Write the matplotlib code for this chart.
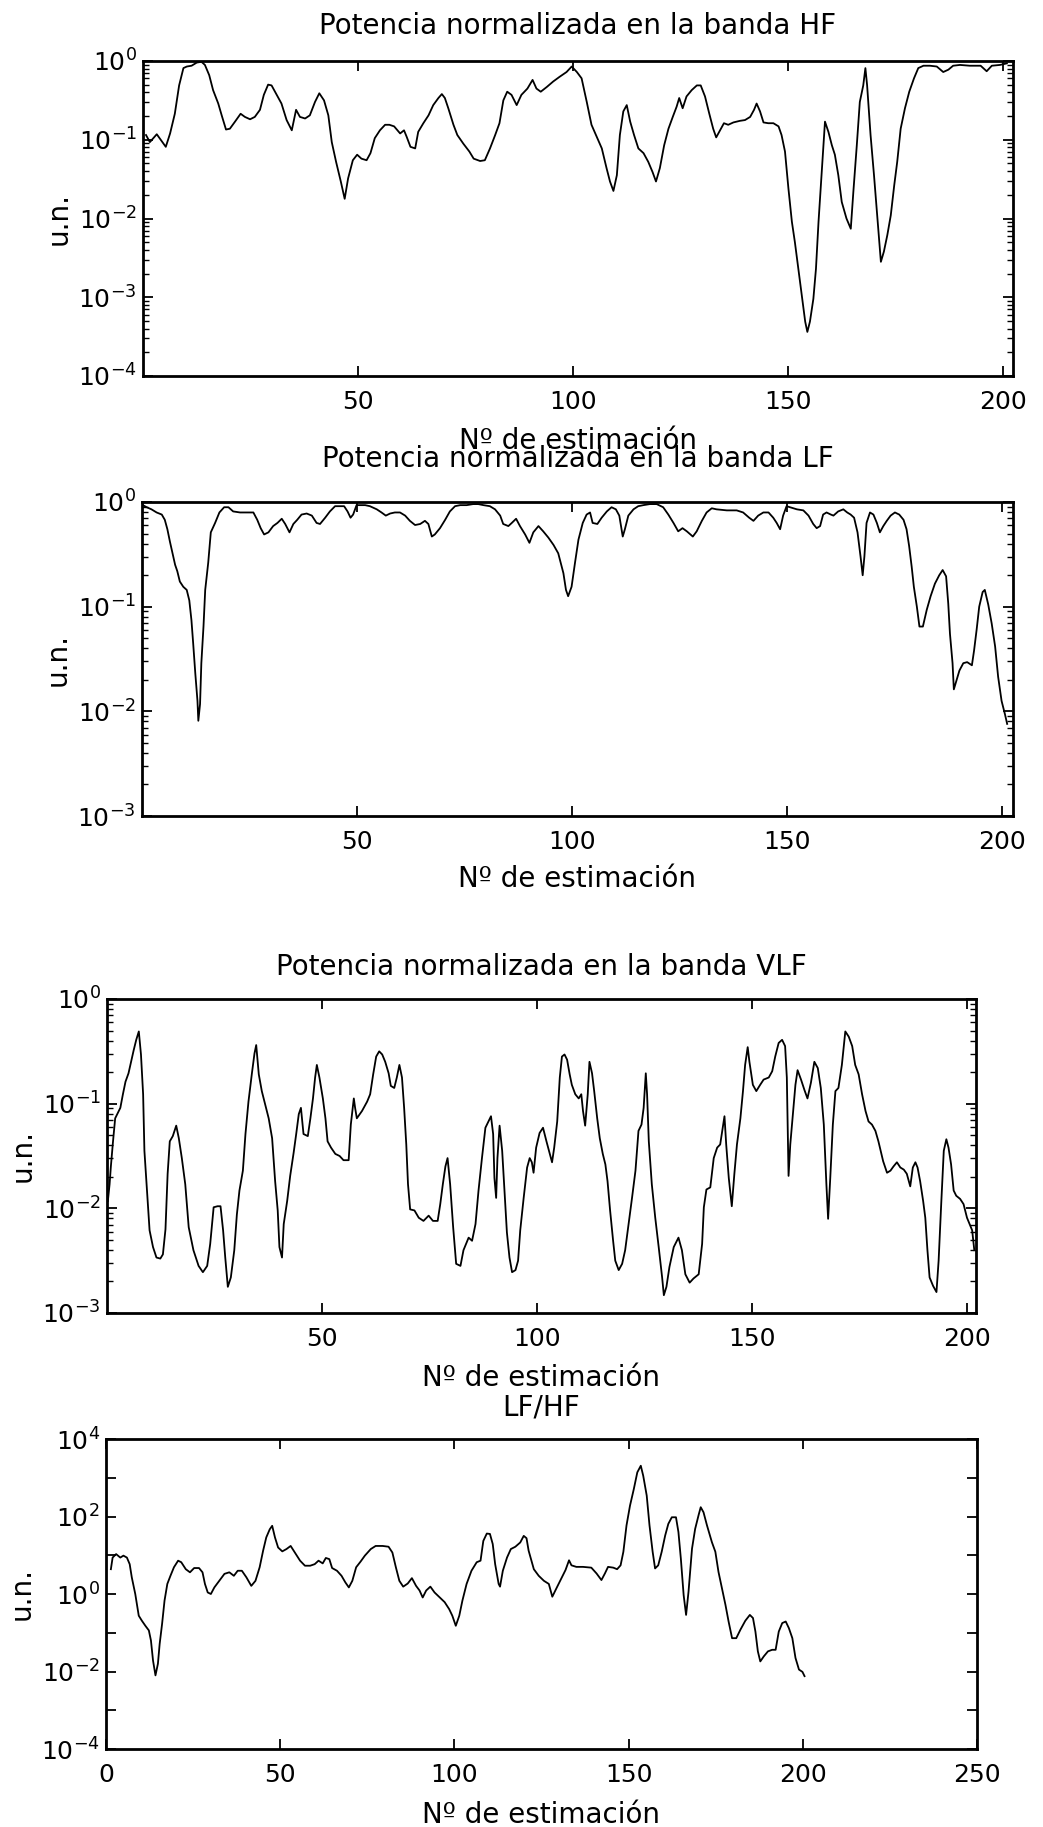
import numpy as np
import matplotlib
matplotlib.use("Agg")
import matplotlib.pyplot as plt
from matplotlib.ticker import LogLocator, NullFormatter, NullLocator

plt.rcParams['font.family'] = ['DejaVu Sans']

# ---- data (x = Nº de estimación, y as log10 exponent) ----
hf_x = [0.7, 1.6, 3.2, 5.3, 6.3, 7.4, 8.4, 9.4, 10.2, 11.3, 12.5, 13.6, 14.4, 15.4, 16.3, 17.5, 18.3, 19.3, 20.2, 21.4,
        22.7, 23.7, 24.9, 26.0, 27.2, 28.1, 29.1, 29.9, 31.1, 32.2, 33.4, 34.6, 35.6, 36.5, 37.7, 38.8, 40.0, 41.0, 42.1, 43.1,
        43.9, 44.9, 46.0, 46.9, 47.7, 48.8, 49.8, 50.8, 52.0, 52.9, 53.9, 55.1, 56.3, 57.3, 58.4, 59.8, 60.7, 61.3, 62.2, 63.3,
        64.0, 65.2, 66.4, 67.5, 68.7, 69.5, 70.2, 71.0, 72.2, 73.1, 74.5, 75.9, 76.9, 78.4, 79.5, 80.7, 81.9, 82.9, 83.8, 84.7,
        85.7, 86.9, 88.0, 89.4, 90.6, 91.5, 92.5, 93.9, 95.4, 96.9, 98.5, 99.7] + \
       [100.9, 102.0, 103.2, 104.3, 105.5, 106.7, 107.8, 108.6, 109.4, 110.2, 110.9, 111.7, 112.5, 113.3, 114.2, 115.2,
        116.4, 117.5, 118.5, 119.3, 120.2, 121.2, 122.2, 123.2, 124.1, 124.7, 125.5, 126.4, 127.6, 128.8, 129.7, 130.7,
        131.7, 132.6, 133.3, 134.2, 135.1, 136.1, 137.3, 138.8, 140.0, 141.2, 142.1, 142.7, 143.5, 144.3, 145.4, 146.6,
        147.8, 148.5, 149.3, 150.1, 150.9, 151.6, 152.4, 153.2, 154.0, 154.5, 155.1, 155.9, 156.5, 157.1, 157.8, 158.6,
        159.4, 160.2, 160.9, 161.7, 162.5, 163.6, 164.6, 165.2, 166.0, 166.7, 167.5, 168.0, 168.4, 169.2, 170.0, 170.8,
        171.6, 172.3, 173.1, 173.9, 174.7, 175.4, 176.2, 177.2, 178.2, 179.3, 180.3, 181.5, 183.0, 184.6, 186.1, 187.3,
        188.4, 190.0, 192.3, 194.8, 196.2, 197.4, 199.3, 200.9]
hf_exp = [-0.94, -1.03, -0.93, -1.09, -0.92, -0.67, -0.31, -0.09, -0.07, -0.06, -0.02, -0.01, -0.05, -0.18, -0.37, -0.54,
          -0.69, -0.87, -0.86, -0.77, -0.67, -0.71, -0.74, -0.71, -0.62, -0.43, -0.30, -0.31, -0.43, -0.54, -0.75, -0.88,
          -0.62, -0.71, -0.73, -0.69, -0.52, -0.41, -0.50, -0.69, -1.03, -1.28, -1.53, -1.75, -1.49, -1.26, -1.19, -1.24,
          -1.26, -1.17, -0.98, -0.88, -0.81, -0.81, -0.83, -0.92, -0.88, -0.96, -1.09, -1.11, -0.90, -0.79, -0.69, -0.56,
          -0.47, -0.42, -0.47, -0.60, -0.81, -0.94, -1.05, -1.15, -1.24, -1.27, -1.26, -1.11, -0.94, -0.79, -0.50, -0.39,
          -0.43, -0.56, -0.43, -0.35, -0.24, -0.35, -0.39, -0.33, -0.26, -0.20, -0.14, -0.07] + \
         [-0.14, -0.22, -0.52, -0.81, -0.96, -1.11, -1.36, -1.53, -1.65, -1.45, -0.94, -0.64, -0.56, -0.77, -0.94, -1.11,
          -1.17, -1.28, -1.41, -1.53, -1.36, -1.07, -0.86, -0.71, -0.58, -0.47, -0.60, -0.45, -0.37, -0.31, -0.31, -0.45,
          -0.67, -0.86, -0.97, -0.88, -0.79, -0.81, -0.78, -0.76, -0.75, -0.71, -0.62, -0.54, -0.64, -0.78, -0.79, -0.79,
          -0.83, -0.94, -1.15, -1.62, -2.04, -2.30, -2.64, -2.97, -3.31, -3.44, -3.31, -3.02, -2.64, -2.04, -1.45, -0.77,
          -0.90, -1.07, -1.19, -1.45, -1.79, -2.00, -2.13, -1.66, -1.07, -0.52, -0.31, -0.09, -0.31, -0.94, -1.45, -2.00,
          -2.55, -2.42, -2.21, -1.96, -1.58, -1.28, -0.86, -0.60, -0.39, -0.22, -0.09, -0.06, -0.06, -0.07, -0.14, -0.11,
          -0.06, -0.05, -0.06, -0.06, -0.13, -0.06, -0.05, -0.03]

lf_x = [0.2, 1.1, 2.2, 3.4, 4.6, 5.3, 5.9, 6.5, 7.1, 7.7, 8.2, 8.8, 9.6, 10.4, 11.0, 11.5, 11.9, 12.4, 12.9, 13.1,
        13.5, 13.8, 14.3, 14.7, 15.4, 16.0, 17.0, 18.0, 19.1, 20.1, 21.2, 22.8, 24.7, 25.9, 26.8, 27.6, 28.4, 29.4, 30.5, 31.5,
        32.5, 33.3, 34.3, 35.2, 36.1, 37.1, 38.3, 39.5, 40.6, 41.4, 42.6, 43.7, 44.9, 46.0, 47.0, 47.8, 48.5, 49.1, 49.9, 50.7,
        51.9, 53.0, 54.6, 55.7, 56.7, 57.7, 58.8, 60.0, 61.2, 62.3, 63.5, 64.7, 65.8, 66.6, 67.4, 68.1, 69.3, 70.5, 71.6, 72.8,
        74.0, 75.5, 77.0, 78.2, 79.4, 80.9, 82.1, 83.3, 84.0, 85.2, 86.0, 87.0, 87.9, 89.1, 90.1, 91.0, 92.2, 93.3, 94.5, 95.7,
        96.8] + \
       [98.0, 98.6, 99.1, 99.9, 100.7, 101.5, 102.5, 103.4, 104.2, 104.8, 105.9, 106.9, 108.1, 109.2, 110.2, 111.0, 111.8,
        112.3, 113.1, 114.3, 115.4, 116.6, 118.1, 119.7, 121.2, 122.4, 123.6, 124.7, 125.7, 126.7, 128.1, 129.0, 130.2,
        131.3, 132.5, 133.6, 136.0, 138.3, 139.8, 141.2, 142.2, 143.3, 144.5, 145.7, 146.8, 147.6, 148.4, 149.1, 149.9,
        150.7, 152.3, 153.8, 155.0, 156.1, 156.9, 157.7, 158.4, 159.2, 160.2, 160.8, 161.9, 163.1, 164.0, 164.8, 165.6,
        166.4, 167.1, 167.6, 168.0, 168.5, 169.3, 170.1, 170.9, 171.6, 172.4, 173.2, 174.1, 175.1, 176.1, 177.1, 177.8,
        178.4, 179.0, 179.5, 180.2, 180.8, 181.6, 182.5, 183.4, 184.4, 185.4, 186.2, 187.0, 187.5, 187.9, 188.5, 188.8,
        189.3, 190.1, 191.0, 191.9, 193.0, 193.5, 194.1, 194.7, 195.5, 196.0, 196.8, 197.6, 198.4, 199.1, 199.9, 200.7, 201.2]
lf_exp = [-0.03, -0.05, -0.07, -0.10, -0.12, -0.17, -0.26, -0.38, -0.49, -0.60, -0.66, -0.76, -0.81, -0.84, -0.94, -1.13,
          -1.35, -1.64, -1.90, -2.09, -1.93, -1.54, -1.19, -0.84, -0.58, -0.29, -0.20, -0.10, -0.05, -0.05, -0.09, -0.10,
          -0.10, -0.10, -0.17, -0.25, -0.31, -0.29, -0.23, -0.20, -0.16, -0.21, -0.29, -0.21, -0.17, -0.12, -0.11, -0.13,
          -0.20, -0.21, -0.15, -0.09, -0.04, -0.04, -0.04, -0.09, -0.15, -0.12, -0.03, -0.03, -0.03, -0.04, -0.07, -0.10,
          -0.13, -0.11, -0.10, -0.10, -0.13, -0.18, -0.22, -0.21, -0.18, -0.21, -0.33, -0.31, -0.25, -0.17, -0.09, -0.04,
          -0.03, -0.03, -0.02, -0.02, -0.03, -0.04, -0.07, -0.13, -0.21, -0.23, -0.20, -0.16, -0.23, -0.31, -0.39, -0.29,
          -0.23, -0.28, -0.34, -0.41, -0.49] + \
         [-0.68, -0.84, -0.90, -0.81, -0.58, -0.36, -0.20, -0.12, -0.10, -0.20, -0.21, -0.15, -0.09, -0.05, -0.07, -0.13,
          -0.33, -0.26, -0.13, -0.07, -0.04, -0.03, -0.02, -0.02, -0.05, -0.12, -0.20, -0.28, -0.25, -0.28, -0.33, -0.28,
          -0.18, -0.10, -0.06, -0.07, -0.08, -0.08, -0.10, -0.15, -0.18, -0.13, -0.10, -0.10, -0.15, -0.20, -0.26, -0.13,
          -0.04, -0.05, -0.07, -0.08, -0.13, -0.21, -0.25, -0.23, -0.12, -0.10, -0.12, -0.13, -0.09, -0.07, -0.10, -0.12,
          -0.15, -0.29, -0.52, -0.70, -0.52, -0.20, -0.10, -0.12, -0.20, -0.29, -0.23, -0.18, -0.13, -0.10, -0.12, -0.17,
          -0.26, -0.42, -0.62, -0.81, -1.00, -1.19, -1.19, -1.03, -0.90, -0.78, -0.70, -0.65, -0.71, -0.97, -1.26, -1.54,
          -1.79, -1.72, -1.61, -1.54, -1.53, -1.56, -1.42, -1.22, -1.00, -0.86, -0.84, -0.98, -1.16, -1.38, -1.67, -1.90,
          -2.03, -2.12]

vlf_x = [0.2, 0.6, 0.9, 1.4, 1.9, 2.5, 3.1, 3.7, 4.3, 5.0, 5.6, 6.2, 6.8, 7.4, 7.9, 8.4, 8.7, 9.3, 9.9, 10.7,
         11.5, 12.4, 13.0, 13.6, 14.1, 14.6, 15.3, 16.1, 16.7, 17.4, 18.2, 19.0, 20.1, 21.3, 22.3, 23.3, 24.0, 24.8, 25.7, 26.4,
         27.0, 27.5, 28.1, 28.8, 29.6, 30.2, 30.8, 31.6, 32.2, 32.9, 33.7, 34.3, 34.7, 35.3, 36.0, 36.8, 37.6, 38.4, 39.1, 39.7,
         40.1, 40.7, 41.1, 41.9, 42.6, 43.4, 44.0, 44.6, 45.1, 45.7, 46.7, 47.3, 47.9, 48.4, 48.8, 49.4, 50.2, 50.8, 51.3, 52.1,
         53.1, 54.1, 55.0, 56.2, 56.7, 57.4, 57.7, 58.1, 59.3, 60.5, 61.2, 61.9, 62.6, 63.3, 64.0, 64.7, 65.5, 66.0, 66.8, 67.4,
         68.0, 68.6, 69.1, 69.6, 70.0, 70.5, 71.5, 72.5, 73.6, 74.8, 75.8, 76.9, 77.5, 78.1, 78.7, 79.2, 79.8, 80.5, 81.2, 82.2,
         82.9, 84.1, 84.9, 85.7, 86.4, 87.2, 88.0, 88.7, 89.3, 89.8, 90.1, 90.5, 90.8, 91.3, 91.9, 92.4, 93.0, 93.6, 94.2, 95.0,
         95.6, 96.1, 96.9, 97.7, 98.3, 98.8, 99.2, 99.8, 100.6, 101.4, 102.2] + \
        [103.5, 104.0, 104.7, 105.3, 105.8, 106.4, 107.0, 107.6, 108.1, 108.9, 109.7, 110.3, 110.7, 111.2, 111.8, 112.2,
         112.8, 113.3, 114.0, 114.6, 115.3, 115.9, 116.4, 117.0, 117.7, 118.2, 119.0, 119.8, 120.5, 121.3, 122.1, 122.9,
         123.6, 124.3, 124.8, 125.3, 125.6, 126.0, 126.7, 127.5, 128.3, 129.1, 129.5, 130.1, 130.8, 131.8, 132.9, 133.7,
         134.5, 135.5, 136.4, 137.6, 138.4, 138.8, 139.4, 140.3, 141.1, 141.9, 142.6, 143.3, 143.6, 144.0, 144.6, 145.3,
         145.9, 146.5, 147.3, 147.9, 148.4, 149.0, 149.4, 150.2, 151.0, 151.9, 152.7, 153.9, 154.7, 155.4, 156.2, 157.0,
         157.7, 158.1, 158.5, 158.9, 159.5, 160.1, 160.6, 161.4, 162.2, 162.9, 163.7, 164.5, 165.3, 166.0, 166.7, 167.3,
         167.7, 168.2, 168.8, 169.4, 170.1, 170.9, 171.7, 172.5, 173.3, 174.0, 174.8, 175.6, 176.4, 177.1, 177.9, 178.7,
         179.4, 180.5, 181.4, 182.2, 182.9, 183.7, 184.5, 185.3, 186.0, 186.8, 187.4, 188.0, 188.5, 189.1, 189.8, 190.3,
         190.8, 191.3, 192.1, 192.9, 193.4, 194.0, 194.6, 195.2, 195.7, 196.3, 196.9, 197.5, 198.4, 199.2, 200.0, 200.6,
         201.2, 201.7]
vlf_exp = [-1.93, -1.77, -1.60, -1.36, -1.14, -1.09, -1.04, -0.91, -0.79, -0.71, -0.60, -0.49, -0.39, -0.31, -0.53, -0.91,
           -1.45, -1.83, -2.21, -2.37, -2.47, -2.48, -2.44, -2.20, -1.67, -1.36, -1.31, -1.21, -1.33, -1.52, -1.77, -2.18,
           -2.40, -2.55, -2.61, -2.55, -2.34, -1.99, -1.98, -1.98, -2.21, -2.47, -2.75, -2.66, -2.40, -2.06, -1.83, -1.64,
           -1.29, -0.98, -0.71, -0.52, -0.44, -0.72, -0.88, -1.01, -1.14, -1.33, -1.74, -2.02, -2.37, -2.47, -2.15, -1.93,
           -1.69, -1.47, -1.29, -1.10, -1.04, -1.29, -1.31, -1.14, -0.95, -0.75, -0.63, -0.75, -0.95, -1.14, -1.36, -1.42,
           -1.48, -1.50, -1.54, -1.54, -1.20, -0.95, -1.04, -1.14, -1.07, -0.98, -0.91, -0.72, -0.55, -0.50, -0.53, -0.60,
           -0.71, -0.83, -0.85, -0.75, -0.63, -0.75, -1.04, -1.39, -1.77, -2.01, -2.02, -2.09, -2.12, -2.07, -2.12, -2.12,
           -1.96, -1.77, -1.60, -1.52, -1.77, -2.18, -2.53, -2.55, -2.40, -2.28, -2.31, -2.15, -1.83, -1.52, -1.23, -1.17,
           -1.12, -1.29, -1.71, -1.90, -1.52, -1.21, -1.45, -1.80, -2.23, -2.47, -2.61, -2.59, -2.50, -2.21, -1.90, -1.61,
           -1.52, -1.56, -1.66, -1.42, -1.28, -1.23, -1.36] + \
          [-1.56, -1.42, -1.17, -0.75, -0.55, -0.53, -0.58, -0.72, -0.82, -0.91, -0.95, -0.91, -1.07, -1.21, -0.91, -0.60,
           -0.71, -0.88, -1.14, -1.33, -1.48, -1.58, -1.74, -2.02, -2.31, -2.50, -2.59, -2.53, -2.40, -2.15, -1.90, -1.64,
           -1.26, -1.20, -1.04, -0.71, -0.91, -1.36, -1.77, -2.09, -2.37, -2.66, -2.83, -2.75, -2.56, -2.37, -2.28, -2.40,
           -2.63, -2.71, -2.67, -2.63, -2.34, -1.99, -1.82, -1.80, -1.52, -1.42, -1.39, -1.20, -1.12, -1.39, -1.71, -1.98,
           -1.67, -1.39, -1.14, -0.88, -0.63, -0.46, -0.60, -0.82, -0.88, -0.82, -0.77, -0.75, -0.69, -0.55, -0.42, -0.39,
           -0.45, -0.75, -1.69, -1.39, -1.10, -0.82, -0.68, -0.77, -0.87, -0.95, -0.80, -0.60, -0.66, -0.85, -1.20, -1.77,
           -2.10, -1.71, -1.20, -0.88, -0.85, -0.63, -0.31, -0.36, -0.45, -0.63, -0.72, -0.91, -1.07, -1.17, -1.20, -1.26,
           -1.36, -1.55, -1.66, -1.64, -1.60, -1.56, -1.61, -1.63, -1.67, -1.79, -1.61, -1.56, -1.61, -1.74, -1.93, -2.09,
           -2.40, -2.66, -2.74, -2.80, -2.50, -1.96, -1.45, -1.34, -1.42, -1.58, -1.83, -1.88, -1.91, -1.96, -2.09, -2.15,
           -2.21, -2.40]

ratio_x = [1.4, 1.9, 2.9, 4.1, 5.0, 6.0, 6.8, 7.4, 8.4, 9.4, 10.3, 11.3, 12.3, 12.9, 13.5, 14.2, 14.9, 15.4, 16.1, 16.8,
           17.6, 18.5, 19.5, 20.7, 21.6, 22.9, 24.1, 25.3, 26.7, 27.7, 28.4, 29.2, 30.1, 31.1, 32.5, 34.0, 35.4, 36.7, 37.8,
           39.0, 40.3, 41.7, 42.9, 44.1, 45.1, 46.0, 47.0, 47.7, 48.5, 49.4, 50.6, 51.8, 53.0, 54.2, 55.7, 57.1, 58.6, 59.9,
           61.0, 62.2, 63.1, 64.1, 64.9, 66.3, 67.6, 68.7, 69.7, 70.7, 71.8, 73.1, 74.3, 76.0, 77.4, 79.4, 81.1, 82.2, 83.2,
           84.2, 85.3, 86.6, 87.8, 89.0, 90.0, 90.9, 91.9, 93.1, 94.3, 95.8, 97.2, 98.5, 99.4, 100.4, 101.4, 102.3, 103.5,
           104.9, 106.4, 107.5, 108.3, 109.3, 110.2, 111.0, 111.7, 112.7, 113.1, 113.9, 115.1, 116.2, 117.5, 118.9, 119.9,
           120.7, 121.3, 122.8, 124.2, 125.7, 127.1] + \
          [128.1, 129.3, 130.7, 131.9, 132.9, 133.6, 135.0, 136.9, 139.3, 140.8, 142.2, 143.2, 144.1, 145.6, 146.7, 147.7,
           148.5, 149.4, 150.4, 151.5, 152.5, 153.5, 154.2, 155.2, 156.0, 156.9, 157.6, 158.5, 159.5, 160.5, 161.4, 162.4,
           163.6, 164.3, 165.0, 165.8, 166.5, 167.2, 168.2, 169.1, 170.1, 170.7, 171.5, 172.5, 173.9, 174.9, 175.8, 176.8,
           177.8, 178.7, 179.7, 180.9, 182.1, 183.5, 184.8, 185.7, 186.4, 187.1, 187.8, 188.8, 190.0, 191.2, 192.2, 193.1,
           194.1, 195.1, 196.0, 197.0, 197.9, 198.9, 199.9, 200.5]
ratio_exp = [0.64, 0.94, 1.03, 0.94, 0.99, 0.94, 0.77, 0.43, 0.00, -0.56, -0.69, -0.82, -0.94, -1.20, -1.72, -2.10, -1.80,
             -1.29, -0.77, -0.17, 0.26, 0.47, 0.69, 0.86, 0.82, 0.64, 0.56, 0.67, 0.67, 0.56, 0.26, 0.04, 0.00, 0.17, 0.34,
             0.52, 0.56, 0.47, 0.60, 0.60, 0.43, 0.21, 0.34, 0.69, 1.12, 1.46, 1.67, 1.76, 1.46, 1.20, 1.10, 1.16, 1.24,
             1.07, 0.86, 0.73, 0.73, 0.77, 0.86, 0.79, 0.93, 0.90, 0.67, 0.60, 0.47, 0.30, 0.17, 0.34, 0.69, 0.84, 0.99,
             1.16, 1.24, 1.24, 1.22, 1.07, 0.69, 0.34, 0.19, 0.27, 0.41, 0.21, 0.09, -0.09, 0.09, 0.19, 0.04, -0.09, -0.21,
             -0.39, -0.56, -0.82, -0.56, -0.17, 0.26, 0.60, 0.82, 0.86, 1.37, 1.56, 1.55, 1.29, 0.77, 0.26, 0.19, 0.60,
             0.94, 1.16, 1.22, 1.33, 1.50, 1.44, 1.12, 0.64, 0.47, 0.34, 0.26] + \
            [-0.07, 0.15, 0.40, 0.62, 0.87, 0.74, 0.70, 0.70, 0.68, 0.53, 0.36, 0.53, 0.70, 0.68, 0.64, 0.74, 1.09, 1.77,
             2.28, 2.71, 3.14, 3.31, 3.05, 2.54, 1.77, 1.09, 0.66, 0.74, 1.09, 1.51, 1.81, 1.98, 1.98, 1.60, 0.91, -0.03,
             -0.54, 0.06, 1.17, 1.68, 2.04, 2.24, 2.11, 1.77, 1.34, 1.09, 0.57, 0.15, -0.28, -0.71, -1.14, -1.14, -0.92,
             -0.69, -0.54, -0.62, -0.97, -1.48, -1.74, -1.61, -1.48, -1.44, -1.44, -0.97, -0.75, -0.71, -0.88, -1.14, -1.65,
             -1.95, -2.01, -2.12]

titles = ['Potencia normalizada en la banda HF', 'Potencia normalizada en la banda LF',
          'Potencia normalizada en la banda VLF', 'LF/HF']
xlabel = 'Nº de estimación'
ylabel = 'u.n.'

W, H = 1043, 1827
fig = plt.figure(figsize=(W / 100, H / 100), dpi=100)

# panel boxes in pixels: left, top, right, bottom
boxes = [(143, 61, 1013, 376), (142, 502, 1013, 816), (107, 999, 976, 1313), (106, 1439, 977, 1749)]
title_off = [35, 43, 32, 31]
xlab_off = [65, 63, 65, 66]
series = [(hf_x, hf_exp), (lf_x, lf_exp), (vlf_x, vlf_exp), (ratio_x, ratio_exp)]
ylims = [(1e-4, 1), (1e-3, 1), (1e-3, 1), (1e-4, 1e4)]

for i, (l, t, r, b) in enumerate(boxes):
    ax = fig.add_axes([l / W, 1 - b / H, (r - l) / W, (b - t) / H])
    h = b - t
    x, e = series[i]
    ax.semilogy(x, 10.0 ** np.array(e), color='black', lw=1.3)
    ax.set_ylim(*ylims[i])

    if i < 3:
        ax.set_xlim(0, (r - l) / 4.3)
        ax.set_xticks([50, 100, 150, 200])
        ax.yaxis.set_major_locator(LogLocator(base=10, numticks=10))
        ax.yaxis.set_minor_locator(LogLocator(base=10, subs=np.arange(2, 10), numticks=10))
        ax.yaxis.set_minor_formatter(NullFormatter())
    else:
        ax.set_xlim(0, 250)
        ax.set_xticks([0, 50, 100, 150, 200, 250])
        decades = np.arange(-4, 5)
        ax.set_yticks(10.0 ** decades)
        ax.set_yticklabels([r'$\mathdefault{10^{%d}}$' % d if d % 2 == 0 else '' for d in decades])
        ax.yaxis.set_minor_locator(NullLocator())

    ax.tick_params(which='both', direction='in', top=True, right=True, labelsize=18)
    ax.tick_params(which='major', length=7, width=1.3)
    ax.tick_params(which='minor', length=4, width=1.0)
    ax.tick_params(axis='x', pad=10)
    ax.tick_params(axis='y', pad=4.5)
    for s in ax.spines.values():
        s.set_linewidth(2.0)

    ax.set_title(titles[i], fontsize=20, pad=0, y=1 + title_off[i] / h, va='center')
    ax.set_xlabel(xlabel, fontsize=20, va='center')
    ax.xaxis.set_label_coords(0.5, -xlab_off[i] / h)
    ax.set_ylabel(ylabel, fontsize=20, va='center')
    ax.yaxis.set_label_coords(-0.097, 0.5)

fig.savefig('out.png', dpi=100)
